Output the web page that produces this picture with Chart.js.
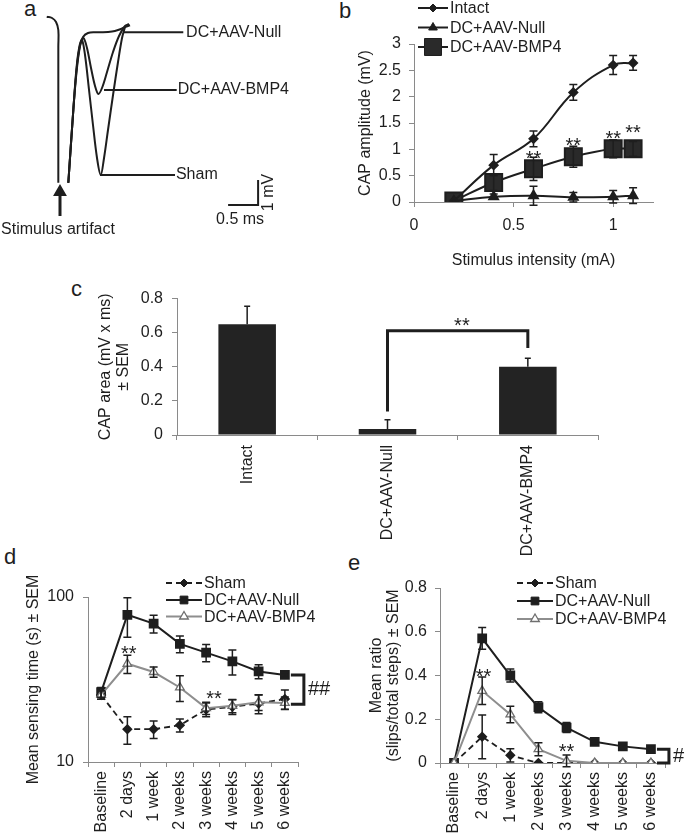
<!DOCTYPE html>
<html>
<head>
<meta charset="utf-8">
<script src="https://cdn.jsdelivr.net/npm/chart.js@4.4.1/dist/chart.umd.min.js"></script>
<style>
  body { margin: 0; width: 685px; height: 836px; position: relative; overflow: hidden; background: #fff;
         font-family: "Liberation Sans", Arial, sans-serif; color: #1e1e1e; }
  canvas { position: absolute; }
  .tag { position: absolute; font-size: 22px; line-height: 22px; }
</style>
</head>
<body>
<div class="tag" style="left:24px;top:-2px">a</div>
<div class="tag" style="left:339px;top:0px">b</div>
<div class="tag" style="left:71px;top:278px">c</div>
<div class="tag" style="left:4px;top:546px">d</div>
<div class="tag" style="left:348px;top:552px">e</div>

<canvas id="figA" width="340" height="240" style="left:0;top:0"></canvas>
<canvas id="figB" width="345" height="280" style="left:340px;top:0"></canvas>
<canvas id="figC" width="540" height="280" style="left:80px;top:280px"></canvas>
<canvas id="figD" width="340" height="276" style="left:0;top:560px"></canvas>
<canvas id="figE" width="345" height="276" style="left:340px;top:560px"></canvas>

<script>
// ---- a: example CAP traces (ms, mV) ----
const aStimT = [-0.193, -0.105, -0.038, 0, 0, 0];
const aStimV = [0.61, 0.56, 0.40, 0.08, -0.6, -6.03];
const aNullT = [0.167, 0.25, 0.307, 0.362, 0.412, 0.495, 0.612, 0.745, 0.895, 0.995, 1.095, 1.195];
const aNullV = [-6.03, -3.12, -1.52, -0.56, -0.2, -0.04, -0.01, -0.01, 0.02, 0.08, 0.18, 0.27];
const aBmp4T = [0.167, 0.25, 0.312, 0.37, 0.42, 0.478, 0.545, 0.612, 0.667, 0.728, 0.812, 0.912, 1.012, 1.112, 1.178];
const aBmp4V = [-6.03, -3.12, -1.32, -0.44, -0.24, -0.64, -1.44, -2.16, -2.48, -2.24, -1.6, -0.8, -0.16, 0.24, 0.32];
const aShamT = [0.167, 0.25, 0.303, 0.353, 0.395, 0.445, 0.512, 0.578, 0.645, 0.707, 0.762, 0.828, 0.912, 0.995, 1.062, 1.112];
const aShamV = [-6.03, -3.12, -1.44, -0.56, -0.32, -0.92, -2.32, -3.72, -5.04, -5.72, -5.04, -3.92, -2.52, -1.2, -0.24, 0.2];

// ---- b: CAP amplitude vs stimulus ----
const bStim = [0.2, 0.4, 0.6, 0.8, 1.0, 1.1];
const bIntact = [0.02, 0.70, 1.20, 2.08, 2.60, 2.64];
const bIntactErr = [0, 0.20, 0.15, 0.15, 0.18, 0.14];
const bNull = [0.02, 0.10, 0.12, 0.09, 0.10, 0.12];
const bNullErr = [0, 0.05, 0.18, 0.09, 0.12, 0.15];
const bBmp4 = [0.02, 0.37, 0.63, 0.86, 1.01, 1.01];
const bBmp4Err = [0, 0.15, 0.22, 0.20, 0.17, 0.14];
const bStarX = [0.6, 0.8, 1.0, 1.1];
const bStarY = [0.90, 1.15, 1.28, 1.40];

// ---- c: CAP area ----
const cGroups = ['Intact', 'DC+AAV-Null', 'DC+AAV-BMP4'];
const cArea = [0.65, 0.035, 0.40];
const cAreaErr = [0.105, 0.055, 0.05];

// ---- d, e: behaviour over time ----
const timeLabels = ['Baseline', '2 days', '1 week', '2 weeks', '3 weeks', '4 weeks', '5 weeks', '6 weeks'];
const dSham = [25.5, 15.8, 15.8, 16.7, 20.8, 21.6, 22.6, 24.1];
const dShamErr = [1.5, 3.0, 1.9, 1.5, 2.0, 2.2, 3.0, 3.2];
const dNull = [26.5, 78, 69, 52, 46, 40.7, 35.4, 33.7];
const dNullErr = [1.8, 21, 8.5, 6, 5.5, 7, 3.5, 1.2];
const dBmp4 = [25.5, 39.4, 35.1, 28.3, 21.2, 21.9, 23.0, 22.8];
const dBmp4Err = [1.5, 5.0, 2.5, 5.0, 1.8, 2.0, 2.5, 2.0];

const eSham = [0, 0.12, 0.035, 0, 0, 0, 0, 0];
const eShamErr = [0, 0.10, 0.03, 0, 0, 0, 0, 0];
const eNull = [0, 0.57, 0.40, 0.255, 0.162, 0.097, 0.076, 0.063];
const eNullErr = [0, 0.05, 0.03, 0.025, 0.023, 0.008, 0.006, 0.005];
const eBmp4 = [0, 0.33, 0.222, 0.063, 0.01, 0, 0, 0];
const eBmp4Err = [0, 0.063, 0.038, 0.03, 0.027, 0, 0, 0];

const INK = '#1e1e1e';
const GREY = '#8e8e8e';
const AXIS = '#8a8a8a';
const FONT = '"Liberation Sans", Arial, sans-serif';

Chart.defaults.font.family = FONT;
Chart.defaults.font.size = 16;
Chart.defaults.color = INK;
Chart.defaults.animation = false;
Chart.defaults.plugins.legend.display = false;
Chart.defaults.plugins.tooltip.enabled = false;

const pts = (xs, ys) => xs.map((x, i) => ({ x, y: ys[i] }));
const plain = v => String(Math.round(v * 100) / 100);

// draw a marker the same way the library does
function marker(ctx, style, r, x, y, fill, stroke, bw) {
  ctx.save();
  ctx.setLineDash([]);
  ctx.fillStyle = fill;
  ctx.strokeStyle = stroke;
  ctx.lineWidth = bw;
  Chart.helpers.drawPoint(ctx, { pointStyle: style, radius: r, rotation: 0, borderWidth: bw }, x, y);
  ctx.restore();
}

// vertical SEM bars from a dataset's "errors" array
const errorBars = {
  id: 'errorBars',
  afterDatasetsDraw(chart) {
    const ctx = chart.ctx;
    const ys = chart.scales.y;
    chart.data.datasets.forEach((ds, di) => {
      if (!ds.errors) return;
      const meta = chart.getDatasetMeta(di);
      ctx.save();
      ctx.strokeStyle = INK;
      ctx.lineWidth = 1.5;
      meta.data.forEach((el, i) => {
        const e = ds.errors[i];
        if (!e) return;
        const d = ds.data[i];
        const v = typeof d === 'number' ? d : d.y;
        const top = ys.getPixelForValue(v + e);
        const bot = ds.upOnly ? ys.getPixelForValue(v) : ys.getPixelForValue(v - e);
        const w = ds.capHalf || 4;
        ctx.beginPath();
        ctx.moveTo(el.x, top); ctx.lineTo(el.x, bot);
        ctx.moveTo(el.x - w, top); ctx.lineTo(el.x + w, top);
        if (!ds.upOnly) { ctx.moveTo(el.x - w, bot); ctx.lineTo(el.x + w, bot); }
        ctx.stroke();
      });
      ctx.restore();
    });
  }
};

// significance marks, brackets and inline labels in data coordinates
const notes = {
  id: 'notes',
  afterDatasetsDraw(chart, args, opts) {
    const { ctx } = chart;
    const xs = chart.scales.x, ys = chart.scales.y;
    ctx.save();
    (opts.paths || []).forEach(p => {
      ctx.beginPath();
      p.pts.forEach((q, i) => {
        const px = xs.getPixelForValue(q[0]) + (q[2] || 0);
        const py = ys.getPixelForValue(q[1]) + (q[3] || 0);
        if (i) ctx.lineTo(px, py); else ctx.moveTo(px, py);
      });
      ctx.lineWidth = p.width || 2;
      ctx.strokeStyle = INK;
      ctx.stroke();
    });
    (opts.texts || []).forEach(t => {
      ctx.save();
      ctx.translate(xs.getPixelForValue(t.x) + (t.dx || 0), ys.getPixelForValue(t.y) + (t.dy || 0));
      if (t.rot) ctx.rotate(t.rot);
      ctx.font = (t.size || 16) + 'px ' + FONT;
      ctx.fillStyle = INK;
      ctx.textAlign = t.align || 'center';
      ctx.textBaseline = 'middle';
      ctx.fillText(t.text, 0, 0);
      ctx.restore();
    });
    ctx.restore();
  }
};

// legend: line sample with marker, then label
const keyBox = {
  id: 'keyBox',
  afterDraw(chart, args, opts) {
    if (!opts.rows) return;
    const ctx = chart.ctx;
    opts.rows.forEach((y, i) => {
      const ds = chart.data.datasets[i];
      ctx.save();
      ctx.strokeStyle = ds.borderColor;
      ctx.lineWidth = ds.borderWidth;
      ctx.setLineDash(ds.borderDash || []);
      ctx.beginPath();
      ctx.moveTo(opts.x, y); ctx.lineTo(opts.x + opts.len, y);
      ctx.stroke();
      ctx.restore();
      marker(ctx, ds.pointStyle, ds.pointRadius, opts.x + opts.len / 2, y,
             ds.pointBackgroundColor || ds.borderColor, ds.pointBorderColor || ds.borderColor, ds.pointBorderWidth || 1);
      ctx.save();
      ctx.font = '16px ' + FONT;
      ctx.fillStyle = INK;
      ctx.textBaseline = 'middle';
      ctx.fillText(ds.label, opts.x + opts.len + 2, y + 1);
      ctx.restore();
    });
  }
};

Chart.register(errorBars, notes, keyBox);

const axisGrid = { drawOnChartArea: false, tickLength: 5, color: AXIS };
const axisBorder = { color: AXIS };

// ---------- a ----------
const traceStyle = { showLine: true, borderColor: INK, borderWidth: 2, pointRadius: 0, pointHoverRadius: 0, tension: 0.35 };
new Chart(document.getElementById('figA'), {
  type: 'scatter',
  data: {
    datasets: [
      { ...traceStyle, data: pts(aStimT, aStimV), tension: 0.4 },
      { ...traceStyle, data: pts(aNullT, aNullV) },
      { ...traceStyle, data: pts(aBmp4T, aBmp4V) },
      { ...traceStyle, data: pts(aShamT, aShamV) },
      { ...traceStyle, tension: 0, data: [{ x: 1.083, y: -0.01 }, { x: 2.083, y: -0.01 }] },
      { ...traceStyle, tension: 0, data: [{ x: 0.762, y: -2.32 }, { x: 1.973, y: -2.32 }] },
      { ...traceStyle, tension: 0, data: [{ x: 0.695, y: -5.72 }, { x: 1.945, y: -5.72 }] },
      { ...traceStyle, tension: 0, data: [{ x: 2.83, y: -6.92 }, { x: 3.33, y: -6.92 }, { x: 3.33, y: -5.92 }] },
      { ...traceStyle, tension: 0, borderWidth: 3, data: [{ x: 0.028, y: -7.36 }, { x: 0.028, y: -6.4 }],
        pointRadius: [0, 5], pointStyle: 'triangle', pointBackgroundColor: INK }
    ]
  },
  options: {
    responsive: false,
    layout: { padding: 0, autoPadding: false },
    scales: {
      x: { type: 'linear', display: false, min: -0.972, max: 4.695 },
      y: { type: 'linear', display: false, min: -8.32, max: 1.28 }
    },
    plugins: {
      notes: {
        texts: [
          { x: 2.13, y: -0.01, text: 'DC+AAV-Null', align: 'left' },
          { x: 1.99, y: -2.32, text: 'DC+AAV-BMP4', align: 'left' },
          { x: 1.96, y: -5.72, text: 'Sham', align: 'left' },
          { x: 3.03, y: -7.49, text: '0.5 ms' },
          { x: 3.5, y: -6.42, text: '1 mV', rot: -Math.PI / 2 },
          { x: -0.005, y: -7.89, text: 'Stimulus artifact' }
        ]
      }
    }
  }
});

// ---------- b ----------
new Chart(document.getElementById('figB'), {
  type: 'line',
  data: {
    datasets: [
      { label: 'Intact', data: pts(bStim, bIntact), errors: bIntactErr, borderColor: INK, borderWidth: 2,
        pointStyle: 'rectRot', pointRadius: 4, pointBackgroundColor: INK, tension: 0.4 },
      { label: 'DC+AAV-Null', data: pts(bStim, bNull), errors: bNullErr, borderColor: INK, borderWidth: 2,
        pointStyle: 'triangle', pointRadius: 5, pointBackgroundColor: INK, tension: 0.4 },
      { label: 'DC+AAV-BMP4', data: pts(bStim, bBmp4), errors: bBmp4Err, borderColor: INK, borderWidth: 2,
        pointStyle: 'rect', pointRadius: 12, pointBackgroundColor: '#2a2a2a', tension: 0.4 }
    ]
  },
  options: {
    responsive: false,
    layout: { padding: { top: 44, right: 32, left: 0, bottom: 0 } },
    scales: {
      x: {
        type: 'linear', min: 0, max: 1.2,
        ticks: { stepSize: 0.5, includeBounds: false, padding: 9, callback: plain },
        grid: axisGrid, border: axisBorder,
        title: { display: true, text: 'Stimulus intensity (mA)', padding: { top: 0, bottom: 10 } },
        afterFit: s => { s.height = 78; }
      },
      y: {
        min: 0, max: 3,
        ticks: { stepSize: 0.5, padding: 8, callback: plain },
        grid: axisGrid, border: axisBorder,
        title: { display: true, text: 'CAP amplitude (mV)', padding: { top: 16, bottom: 0 } },
        afterFit: s => { s.width = 74; }
      }
    },
    plugins: {
      keyBox: { x: 78, len: 30, rows: [8, 27.5, 47] },
      notes: { texts: bStarX.map((x, i) => ({ x, y: bStarY[i], text: '**', size: 20, dy: 5 })) }
    }
  }
});

// ---------- c ----------
new Chart(document.getElementById('figC'), {
  type: 'bar',
  data: {
    labels: cGroups,
    datasets: [{ data: cArea, errors: cAreaErr, upOnly: true, capHalf: 3,
                 backgroundColor: '#232323', barPercentage: 0.41, categoryPercentage: 1 }]
  },
  options: {
    responsive: false,
    layout: { padding: { top: 14, right: 22, left: 0, bottom: 0 } },
    scales: {
      x: {
        grid: { ...axisGrid, offset: true }, border: axisBorder,
        ticks: { minRotation: 90, maxRotation: 90, padding: 5 },
        afterFit: s => { s.height = 125; }
      },
      y: {
        min: 0, max: 0.8,
        ticks: { stepSize: 0.2, padding: 9, callback: plain },
        grid: axisGrid, border: axisBorder,
        title: { display: true, text: ['CAP area (mV x ms)', '± SEM'], font: { size: 16, lineHeight: 1.15 },
                 padding: { top: 16, bottom: 0 } },
        afterFit: s => { s.width = 97; }
      }
    },
    plugins: {
      notes: {
        paths: [{ pts: [[1, 0.138], [1, 0.611], [2, 0.611], [2, 0.51]], width: 3 }],
        texts: [{ x: 1.53, y: 0.665, text: '**', size: 20, dy: 5 }]
      }
    }
  }
});

// ---------- d, e ----------
function timeChart(id, cfg) {
  return new Chart(document.getElementById(id), {
    type: 'line',
    data: {
      labels: timeLabels,
      datasets: [
        { label: 'Sham', data: cfg.sham, errors: cfg.shamErr, order: 1, borderColor: INK, borderWidth: 1.8,
          borderDash: [6, 4], pointStyle: 'rectRot', pointRadius: 4, pointBackgroundColor: INK, tension: 0 },
        { label: 'DC+AAV-Null', data: cfg.nul, errors: cfg.nullErr, order: 2, borderColor: INK, borderWidth: 2,
          pointStyle: 'rect', pointRadius: 5.5, pointBackgroundColor: INK, tension: 0 },
        { label: 'DC+AAV-BMP4', data: cfg.bmp, errors: cfg.bmpErr, order: 0, borderColor: GREY, borderWidth: 2,
          pointStyle: 'triangle', pointRadius: 5, pointBackgroundColor: '#fff', pointBorderColor: '#6f6f6f',
          pointBorderWidth: 1.3, tension: 0 }
      ]
    },
    options: {
      responsive: false,
      layout: { padding: cfg.pad },
      scales: {
        x: {
          offset: true,
          grid: { ...axisGrid, offset: true }, border: axisBorder,
          ticks: { minRotation: 90, maxRotation: 90, padding: 4 },
          afterFit: s => { s.height = cfg.xh; }
        },
        y: cfg.y
      },
      plugins: { keyBox: cfg.key, notes: cfg.notes }
    }
  });
}

timeChart('figD', {
  sham: dSham, shamErr: dShamErr, nul: dNull, nullErr: dNullErr, bmp: dBmp4, bmpErr: dBmp4Err,
  pad: { top: 37, right: 42, left: 0, bottom: 0 }, xh: 74,
  y: {
    type: 'logarithmic', min: 10, max: 100,
    afterBuildTicks: s => { s.ticks = s.ticks.filter(t => t.value === 10 || t.value === 100); },
    ticks: { padding: 9, callback: v => String(v) },
    grid: axisGrid, border: axisBorder,
    title: { display: true, text: 'Mean sensing time (s) ± SEM', padding: { top: 24, bottom: 0 } },
    afterFit: s => { s.width = 88; }
  },
  key: { x: 166, len: 36, rows: [23, 40, 56.5] },
  notes: {
    paths: [{ pts: [[7, 33.7, 6, 0], [7, 33.7, 19, 0], [7, 22.4, 19, 0], [7, 22.4, 6, 0]], width: 3 }],
    texts: [
      { x: 1.05, y: 48, text: '**', size: 20, dy: 5 },
      { x: 4.3, y: 25.6, text: '**', size: 20, dy: 5 },
      { x: 7, y: 27.4, dx: 23, text: '##', size: 20, align: 'left' }
    ]
  }
});

timeChart('figE', {
  sham: eSham, shamErr: eShamErr, nul: eNull, nullErr: eNullErr, bmp: eBmp4, bmpErr: eBmp4Err,
  pad: { top: 28, right: 20, left: 0, bottom: 0 }, xh: 73,
  y: {
    min: 0, max: 0.8,
    ticks: { stepSize: 0.2, padding: 8, callback: plain },
    grid: axisGrid, border: axisBorder,
    title: { display: true, text: ['Mean ratio', '(slips/total steps) ± SEM'], font: { size: 16, lineHeight: 1.05 },
             padding: { top: 28, bottom: 0 } },
    afterFit: s => { s.width = 100; }
  },
  key: { x: 177, len: 36, rows: [23, 41, 59] },
  notes: {
    paths: [{ pts: [[7, 0.063, 6, 0], [7, 0.063, 18, 0], [7, 0, 18, 0], [7, 0, 6, 0]], width: 3 }],
    texts: [
      { x: 1.05, y: 0.415, text: '**', size: 20, dy: 5 },
      { x: 4, y: 0.07, text: '**', size: 20, dy: 5 },
      { x: 7, y: 0.03, dx: 22, text: '#', size: 20, align: 'left' }
    ]
  }
});
</script>
</body>
</html>
